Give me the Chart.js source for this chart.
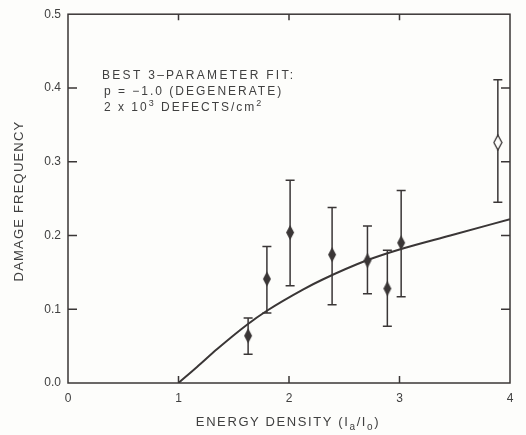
<!DOCTYPE html>
<html>
<head>
<meta charset="utf-8">
<script src="https://cdn.jsdelivr.net/npm/chart.js"></script>
<style>
  html, body { margin: 0; background: #fdfdfb; }
  #wrap { width: 526px; height: 435px; }
</style>
</head>
<body>
<div id="wrap"><canvas id="damage-chart" width="526" height="435"></canvas></div>
<script>
// measured points (filled diamonds)
const energy = [1.63, 1.80, 2.01, 2.39, 2.71, 2.89, 3.015];
const damage = [0.064, 0.141, 0.204, 0.174, 0.166, 0.128, 0.190];
const damageLow = [0.039, 0.095, 0.132, 0.106, 0.121, 0.077, 0.117];
const damageHigh = [0.088, 0.185, 0.275, 0.238, 0.213, 0.180, 0.261];

// open diamond
const openEnergy = [3.89];
const openDamage = [0.326];
const openLow = [0.245];
const openHigh = [0.411];

// fitted curve
const fitEnergy = [1.0, 1.17, 1.35, 1.62, 1.80, 2.13, 2.30, 2.70, 3.00, 3.46, 4.0];
const fitDamage = [0.0, 0.022, 0.046, 0.079, 0.098, 0.127, 0.140, 0.166, 0.181, 0.200, 0.222];

const yTicks = [0.1, 0.2, 0.3, 0.4];
const xTicks = [1, 2, 3];

const ink = '#3a3636';
const textInk = '#404040';

function diamond(w, h, fill, stroke) {
  const c = document.createElement('canvas');
  c.width = w + 2;
  c.height = h + 2;
  const g = c.getContext('2d');
  g.beginPath();
  g.moveTo(c.width / 2, 1);
  g.lineTo(c.width - 1, c.height / 2);
  g.lineTo(c.width / 2, c.height - 1);
  g.lineTo(1, c.height / 2);
  g.closePath();
  g.fillStyle = fill;
  g.fill();
  if (stroke) {
    g.lineWidth = 1.3;
    g.strokeStyle = stroke;
    g.stroke();
  }
  return c;
}

const toPts = (xs, ys) => xs.map((x, i) => ({ x: x, y: ys[i] }));

// draws a run of text pieces, some raised or lowered
function drawPieces(ctx, pieces, x, y, size, spacing) {
  let cx = x;
  pieces.forEach((p) => {
    const fs = p.sup || p.sub ? Math.round(size * 0.78) : size;
    ctx.font = fs + 'px "Liberation Sans", Arial, sans-serif';
    ctx.letterSpacing = spacing + 'px';
    let dy = 0;
    if (p.sup) dy = -size * 0.42;
    if (p.sub) dy = size * 0.3;
    ctx.fillText(p.t, cx, y + dy);
    cx += ctx.measureText(p.t).width;
  });
  return cx - x;
}

const decorations = {
  id: 'decorations',
  beforeDraw(chart) {
    const ctx = chart.ctx;
    ctx.save();
    ctx.fillStyle = '#fdfdfb';
    ctx.fillRect(0, 0, chart.width, chart.height);
    ctx.restore();
  },
  beforeDatasetsDraw(chart) {
    const { ctx, scales } = chart;
    ctx.save();
    ctx.strokeStyle = ink;
    ctx.lineWidth = 1.5;
    const bars = (xs, lo, hi) => {
      xs.forEach((v, i) => {
        const px = scales.x.getPixelForValue(v);
        const y1 = scales.y.getPixelForValue(lo[i]);
        const y2 = scales.y.getPixelForValue(hi[i]);
        ctx.beginPath();
        ctx.moveTo(px, y1);
        ctx.lineTo(px, y2);
        ctx.moveTo(px - 4.5, y1);
        ctx.lineTo(px + 4.5, y1);
        ctx.moveTo(px - 4.5, y2);
        ctx.lineTo(px + 4.5, y2);
        ctx.stroke();
      });
    };
    bars(energy, damageLow, damageHigh);
    bars(openEnergy, openLow, openHigh);
    ctx.restore();
  },
  afterDraw(chart) {
    const { ctx, chartArea: a, scales } = chart;
    ctx.save();
    // frame
    ctx.strokeStyle = ink;
    ctx.lineWidth = 1.5;
    ctx.strokeRect(a.left, a.top, a.right - a.left, a.bottom - a.top);
    // inner ticks
    ctx.beginPath();
    yTicks.forEach((v) => {
      const py = scales.y.getPixelForValue(v);
      ctx.moveTo(a.left, py);
      ctx.lineTo(a.left + 9, py);
      ctx.moveTo(a.right, py);
      ctx.lineTo(a.right - 9, py);
    });
    xTicks.forEach((v) => {
      const px = scales.x.getPixelForValue(v);
      ctx.moveTo(px, a.bottom);
      ctx.lineTo(px, a.bottom - 7);
      ctx.moveTo(px, a.top);
      ctx.lineTo(px, a.top + 6);
    });
    ctx.stroke();

    ctx.fillStyle = textInk;
    ctx.textBaseline = 'alphabetic';
    ctx.textAlign = 'left';

    // annotation
    drawPieces(ctx, [{ t: 'BEST 3\u2013PARAMETER FIT:' }], 102, 79, 12, 2.3);
    drawPieces(ctx, [{ t: 'p = \u22121.0 (DEGENERATE)' }], 104, 95, 12, 2.0);
    drawPieces(ctx, [{ t: '2 x 10' }, { t: '3', sup: true }, { t: ' DEFECTS/cm' }, { t: '2', sup: true }], 104, 111, 12, 2.0);

    // x axis title
    const xPieces = [{ t: 'ENERGY DENSITY (I' }, { t: 'a', sub: true }, { t: '/I' }, { t: 'o', sub: true }, { t: ')' }];
    ctx.globalAlpha = 0;
    const w = drawPieces(ctx, xPieces, 0, -100, 13, 1.6);
    ctx.globalAlpha = 1;
    drawPieces(ctx, xPieces, 288 - w / 2, 426, 13, 1.6);

    // y axis title
    ctx.translate(23, 201);
    ctx.rotate(-Math.PI / 2);
    ctx.font = '13px "Liberation Sans", Arial, sans-serif';
    ctx.letterSpacing = '1.2px';
    ctx.textAlign = 'center';
    ctx.fillText('DAMAGE FREQUENCY', 0, 0);
    ctx.restore();
  }
};

const tickFont = { family: '"Liberation Sans", Arial, sans-serif', size: 12 };

new Chart(document.getElementById('damage-chart'), {
  type: 'scatter',
  data: {
    datasets: [
      {
        label: 'Fit',
        type: 'line',
        data: toPts(fitEnergy, fitDamage),
        borderColor: ink,
        borderWidth: 2,
        pointRadius: 0,
        cubicInterpolationMode: 'monotone',
        fill: false
      },
      {
        label: 'Measured',
        data: toPts(energy, damage),
        pointStyle: diamond(8, 15, ink),
        pointRadius: 5
      },
      {
        label: 'Open',
        data: toPts(openEnergy, openDamage),
        pointStyle: diamond(8, 15, '#fdfdfb', ink),
        pointRadius: 5
      }
    ]
  },
  options: {
    responsive: false,
    animation: false,
    layout: { padding: { top: 12, right: 16, left: 0, bottom: 0 } },
    plugins: {
      legend: { display: false },
      tooltip: { enabled: false }
    },
    scales: {
      x: {
        type: 'linear',
        min: 0,
        max: 4,
        afterFit: (s) => { s.height = 52; },
        grid: { display: false, drawTicks: false },
        border: { display: false },
        ticks: { stepSize: 1, padding: 8, color: textInk, font: tickFont, callback: (v) => String(v) }
      },
      y: {
        min: 0,
        max: 0.5,
        afterFit: (s) => { s.width = 68; },
        grid: { display: false, drawTicks: false },
        border: { display: false },
        ticks: { stepSize: 0.1, padding: 7, color: textInk, font: tickFont, callback: (v) => v.toFixed(1) }
      }
    }
  },
  plugins: [decorations]
});
</script>
</body>
</html>
